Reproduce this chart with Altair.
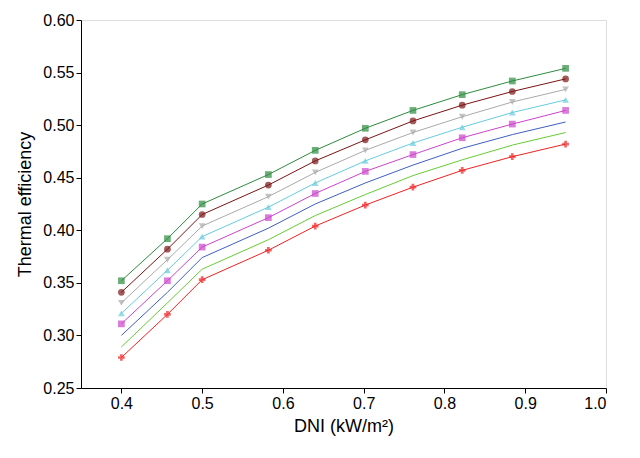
import altair as alt
import pandas as pd

dni = [0.4, 0.457, 0.5, 0.582, 0.64, 0.702, 0.761, 0.822, 0.884, 0.95]
series = {
    "R1234yf":    [0.279, 0.320, 0.353, 0.381, 0.404, 0.424, 0.441, 0.457, 0.470, 0.482],
    "R1234ze(E)": [0.289, 0.331, 0.363, 0.391, 0.414, 0.434, 0.452, 0.467, 0.481, 0.493],
    "R1234ze(Z)": [0.300, 0.341, 0.374, 0.402, 0.425, 0.445, 0.462, 0.478, 0.491, 0.503],
    "R1225ye(Z)": [0.311, 0.352, 0.384, 0.412, 0.435, 0.456, 0.472, 0.488, 0.501, 0.514],
    "R1233zd(E)": [0.321, 0.362, 0.394, 0.422, 0.445, 0.466, 0.483, 0.498, 0.512, 0.524],
    "R1336mzz(Z)":[0.331, 0.372, 0.404, 0.432, 0.455, 0.476, 0.493, 0.508, 0.522, 0.534],
    "R1243zf":    [0.341, 0.382, 0.415, 0.443, 0.466, 0.486, 0.504, 0.519, 0.532, 0.544],
    "R1224yd(Z)": [0.352, 0.392, 0.425, 0.453, 0.476, 0.497, 0.514, 0.529, 0.542, 0.554],
}
colors = {"R1234yf": "#ee2222", "R1234ze(E)": "#66cc33", "R1234ze(Z)": "#3f5fbf",
          "R1225ye(Z)": "#cc44cc", "R1233zd(E)": "#66ccdd", "R1336mzz(Z)": "#aaaaaa",
          "R1243zf": "#7a1414", "R1224yd(Z)": "#2e8b3e"}
shapes = {"R1234yf": "cross", "R1234ze(E)": "M-1,-1L1,1M-1,1L1,-1", "R1234ze(Z)": "M-1,-1L1,1M-1,1L1,-1",
          "R1225ye(Z)": "square", "R1233zd(E)": "triangle-up", "R1336mzz(Z)": "triangle-down",
          "R1243zf": "circle", "R1224yd(Z)": "square"}
x_ticks = [0.4, 0.5, 0.6, 0.7, 0.8, 0.9, 1.0]
y_ticks = [0.25, 0.30, 0.35, 0.40, 0.45, 0.50, 0.55, 0.60]

rows = [{"DNI": x, "eff": v, "fluid": k} for k, vals in series.items() for x, v in zip(dni, vals)]
df = pd.DataFrame(rows)
FONT = "Liberation Sans"

xenc = alt.X("DNI:Q", scale=alt.Scale(domain=[0.35, 1.0], nice=False),
             axis=alt.Axis(values=x_ticks, format=".1f", grid=False,
                           title="DNI (kW/m²)", titleFontSize=18, labelFontSize=16,
                           titleFontWeight="normal", labelColor="black", titleColor="black",
                           domainColor="black", tickColor="black", titlePadding=6))
yenc = alt.Y("eff:Q", scale=alt.Scale(domain=[0.25, 0.6], nice=False),
             axis=alt.Axis(values=y_ticks, format=".2f", grid=False,
                           title="Thermal efficiency", titleFontSize=18, labelFontSize=16,
                           titleFontWeight="normal", labelColor="black", titleColor="black",
                           domainColor="black", tickColor="black", titlePadding=8))

def group(names, lx, ly):
    d = df[df.fluid.isin(names)]
    cs = alt.Scale(domain=names, range=[colors[n] for n in names])
    ss = alt.Scale(domain=names, range=[shapes[n] for n in names])
    leg = alt.Legend(orient="none", legendX=lx, legendY=ly, title=None, labelFontSize=17,
                     labelFont=FONT, rowPadding=12, symbolSize=80, labelColor="black",
                     labelOffset=14)
    line = alt.Chart(d).mark_line(strokeWidth=1).encode(
        x=xenc, y=yenc, color=alt.Color("fluid:N", scale=cs, legend=None), detail="fluid:N")
    pts = alt.Chart(d).mark_point(filled=True, size=45, strokeWidth=1.5).encode(
        x=xenc, y=yenc,
        color=alt.Color("fluid:N", scale=cs, sort=names, legend=leg),
        shape=alt.Shape("fluid:N", scale=ss, sort=names, legend=leg))
    return alt.layer(line, pts)

g1 = group(["R1234yf", "R1234ze(E)", "R1234ze(Z)"], 18, 10)
g2 = group(["R1225ye(Z)"], 238, 6)
g3 = group(["R1233zd(E)", "R1336mzz(Z)", "R1243zf", "R1224yd(Z)"], 238, 214)

chart = alt.layer(g1, g2, g3).resolve_scale(color="independent", shape="independent").properties(
    width=525, height=368, padding={"left": 8, "top": 4, "right": 5, "bottom": 5}
).configure_view(stroke=None).configure(font=FONT)

chart.save("out.html", embed_options={"renderer": "svg", "actions": False})
